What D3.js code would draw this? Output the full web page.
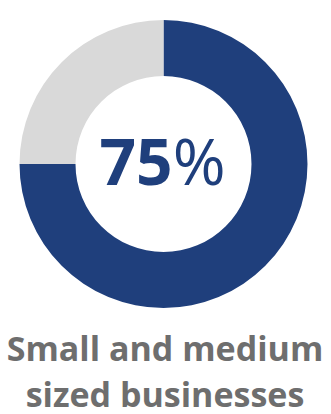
<!DOCTYPE html>
<html>
<head>
<meta charset="utf-8">
<script src="https://cdn.jsdelivr.net/npm/d3@7"></script>
<style>
  html, body { margin: 0; padding: 0; background: #fff; }
  svg { display: block; }
</style>
</head>
<body>
<div id="chart"></div>
<script>
// share of the ring: filled part first, remainder after
var segments = ["Share", "Rest"]
var values   = [75, 25]
var colors   = ["#1f3f7c", "#d9d9d9"]
var bigLabel = ["75", "%"]
var caption  = ["Small and medium", "sized businesses"]

var svgWidth  = 331
var svgHeight = 414
var cx = 163.5, cy = 164
var outerR = 144, innerR = 88

var svg = d3.select("#chart")
.append("svg")
.attr("width", svgWidth)
.attr("height", svgHeight)

var color = d3.scaleOrdinal()
.domain(segments)
.range(colors)

var pie = d3.pie()
.sort(null)
.value(function(d){ return d.value })

var arc = d3.arc()
.innerRadius(innerR)
.outerRadius(outerR)

var data = segments.map(function(s, i){
   return {name: s, value: values[i]}
})

var g = svg.append("g")
.attr("transform", "translate(" + cx + "," + cy + ")")

g.selectAll("path")
.data(pie(data))
.enter()
.append("path")
.attr("d", arc)
.attr("fill", function(d){ return color(d.data.name) })

// big number in the middle
var num = g.append("text")
.attr("x", -1)
.attr("y", 21)
.attr("text-anchor", "middle")
.attr("fill", colors[0])
.style("font-family", "'Open Sans', sans-serif")
.style("font-size", "64px")

num.append("tspan")
.attr("font-weight", "bold")
.text(bigLabel[0])
num.append("tspan")
.attr("font-weight", "normal")
.text(bigLabel[1])

// caption below the ring
svg.selectAll("text.caption")
.data(caption)
.enter()
.append("text")
.attr("class", "caption")
.attr("x", 165)
.attr("y", function(d, i){ return 361 + i * 46 })
.attr("text-anchor", "middle")
.attr("fill", "#6e6e6e")
.style("font-family", "'Open Sans', sans-serif")
.style("font-weight", "bold")
.style("font-size", "34px")
.text(function(d){ return d })
</script>
</body>
</html>
